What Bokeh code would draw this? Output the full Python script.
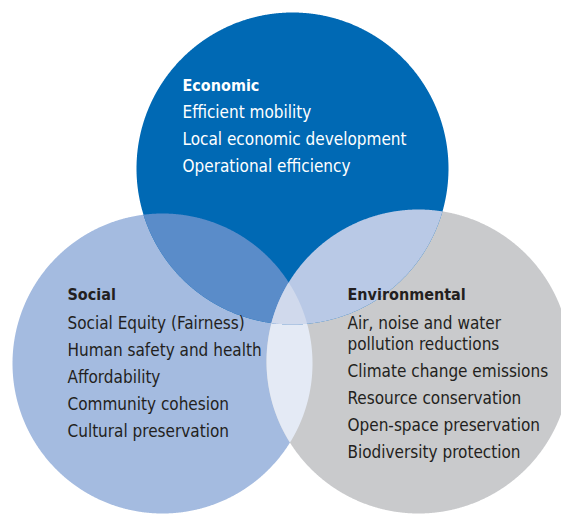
import numpy as np
from bokeh.plotting import figure
from bokeh.models import Range1d
from bokeh.core.properties import value
from bokeh.embed import file_html
from bokeh.resources import INLINE

# ---- data ----
circle_names = ["Economic", "Social", "Environmental"]
circle_cx = [292, 162, 418]
circle_cy = [168, 363, 361]
circle_r = [156, 150, 152]
circle_colors = ["#0069b4", "#a4bbe0", "#c9cacc"]

# overlap colours: (indices of circles), colour
overlaps = [((1, 2), "#e4eaf5"), ((0, 1), "#5a8cc9"), ((0, 2), "#b9c9e6"), ((0, 1, 2), "#d0d9ec")]

economic_items = ["Efficient mobility", "Local economic development", "Operational efficiency"]
social_items = ["Social Equity (Fairness)", "Human safety and health", "Affordability",
                "Community cohesion", "Cultural preservation"]
environmental_items = ["Air, noise and water", "pollution reductions", "Climate change emissions",
                       "Resource conservation", "Open-space preservation", "Biodiversity protection"]

FONT = "'Liberation Sans Narrow', 'Arial Narrow', 'DejaVu Sans Condensed', Roboto, sans-serif"


def intersection_polygon(idx, n=1440):
    pts = []
    for i in idx:
        t = np.linspace(0, 2 * np.pi, n, endpoint=False)
        x = circle_cx[i] + circle_r[i] * np.cos(t)
        y = circle_cy[i] + circle_r[i] * np.sin(t)
        keep = np.ones(n, dtype=bool)
        for j in idx:
            if j == i:
                continue
            keep &= (x - circle_cx[j]) ** 2 + (y - circle_cy[j]) ** 2 <= circle_r[j] ** 2 + 1e-6
        pts.append(np.column_stack([x[keep], y[keep]]))
    pts = np.vstack(pts)
    c = pts.mean(axis=0)
    order = np.argsort(np.arctan2(pts[:, 1] - c[1], pts[:, 0] - c[0]))
    pts = pts[order]
    return list(pts[:, 0]), list(pts[:, 1])


def circle_polygon(i, n=1440):
    t = np.linspace(0, 2 * np.pi, n, endpoint=False)
    return list(circle_cx[i] + circle_r[i] * np.cos(t)), list(circle_cy[i] + circle_r[i] * np.sin(t))


p = figure(width=561, height=514, output_backend="svg", toolbar_location=None,
           x_range=Range1d(0, 561), y_range=Range1d(514, 0), min_border=0)
p.axis.visible = False
p.grid.visible = False
p.outline_line_color = None
p.background_fill_color = "white"
p.border_fill_color = "white"

# draw order: social, environmental, social∩env, economic, econ∩social, econ∩env, triple
for i in [1, 2]:
    xs, ys = circle_polygon(i)
    p.patch(xs, ys, fill_color=circle_colors[i], line_color=None)
xs, ys = intersection_polygon(overlaps[0][0])
p.patch(xs, ys, fill_color=overlaps[0][1], line_color=None)
xs, ys = circle_polygon(0)
p.patch(xs, ys, fill_color=circle_colors[0], line_color=None)
for idx, col in overlaps[1:]:
    xs, ys = intersection_polygon(idx)
    p.patch(xs, ys, fill_color=col, line_color=None)


def block(x, y0, title, items, color, gaps):
    p.text(x=[x], y=[y0], text=[title], text_font=value(FONT), text_font_style="bold",
           text_font_size="16px", text_color=color, text_baseline="middle", text_align="left")
    ys = list(np.cumsum(gaps) + y0)
    p.text(x=[x] * len(items), y=ys, text=items, text_font=value(FONT),
           text_font_size="17px", text_color=color, text_baseline="middle", text_align="left")


block(182, 85, circle_names[0], economic_items, "white", [26, 27, 27])
block(67, 294, circle_names[1], social_items, "#231f20", [28, 27, 27, 27, 27])
block(347, 294, circle_names[2], environmental_items, "#231f20", [28, 21, 27, 27, 27, 27])

open("out.html", "w").write(file_html(p, INLINE))
